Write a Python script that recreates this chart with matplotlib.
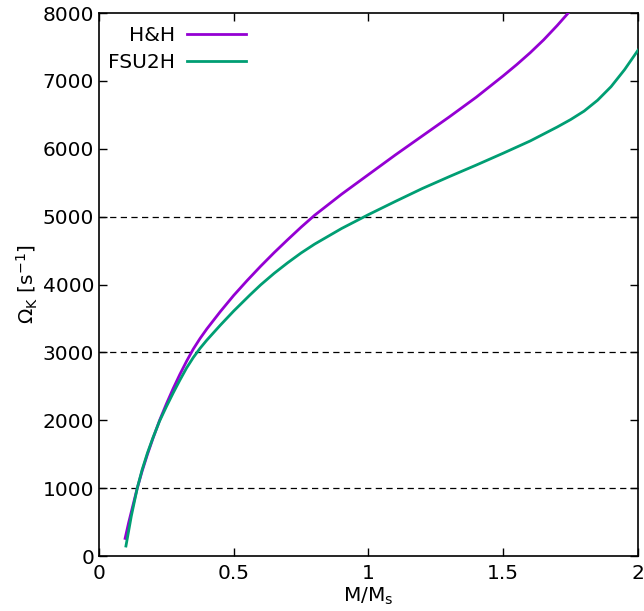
import matplotlib
matplotlib.use('Agg')
import matplotlib.pyplot as plt

# mass in units of M_s, Kepler frequency in s^-1
hh_m = [0.097, 0.11, 0.125, 0.142, 0.16, 0.18, 0.2, 0.225, 0.25, 0.275, 0.3,
        0.325, 0.35, 0.375, 0.4, 0.45, 0.5, 0.55, 0.6, 0.65, 0.7, 0.75, 0.8,
        0.9, 1.0, 1.1, 1.2, 1.3, 1.4, 1.5, 1.55, 1.6, 1.65, 1.7, 1.75]
hh_om = [260, 490, 730, 1000, 1250, 1500, 1730, 2000, 2240, 2465, 2675,
         2870, 3050, 3205, 3345, 3600, 3840, 4060, 4270, 4470, 4660, 4845,
         5020, 5330, 5620, 5910, 6190, 6470, 6760, 7075, 7240, 7415, 7605,
         7815, 8040]

fsu_m = [0.1, 0.12, 0.142, 0.16, 0.18, 0.2, 0.225, 0.25, 0.275, 0.3, 0.325,
         0.35, 0.375, 0.4, 0.45, 0.5, 0.56, 0.6, 0.65, 0.7, 0.75, 0.8, 0.9,
         1.0, 1.1, 1.2, 1.3, 1.4, 1.5, 1.6, 1.7, 1.75, 1.8, 1.85, 1.9, 1.95,
         2.0]
fsu_om = [147, 590, 1000, 1270, 1520, 1740, 1990, 2200, 2400, 2590, 2770,
          2925, 3060, 3180, 3400, 3610, 3845, 3995, 4165, 4320, 4465, 4595,
          4825, 5030, 5225, 5415, 5590, 5760, 5935, 6115, 6320, 6430, 6555,
          6715, 6915, 7165, 7452]

hlines = [1000, 3000, 5000]
xticks = [0, 0.5, 1, 1.5, 2]
xticklabels = ['0', '0.5', '1', '1.5', '2']
yticks = [0, 1000, 2000, 3000, 4000, 5000, 6000, 7000, 8000]

plt.rcParams['font.size'] = 14.5
plt.rcParams['mathtext.default'] = 'regular'

fig = plt.figure(figsize=(6.44, 6.11), dpi=100)
ax = fig.add_axes([0.1537, 0.09, 0.837, 0.8887])

for h in hlines:
    ax.axhline(h, color='black', lw=0.9, ls=(0, (5, 3.5)), zorder=1)

ax.plot(hh_m, hh_om, color='#9400d3', lw=2, label='H&H', zorder=3)
ax.plot(fsu_m, fsu_om, color='#009e73', lw=2, label='FSU2H', zorder=3)

ax.set_xlim(0, 2)
ax.set_ylim(0, 8000)
ax.set_xticks(xticks)
ax.set_xticklabels(xticklabels)
ax.set_yticks(yticks)
ax.tick_params(direction='in', top=True, right=True, length=6, width=1)
ax.tick_params(axis='x', pad=6)
for s in ax.spines.values():
    s.set_linewidth(1.2)

ax.set_xlabel('M/M$_s$', labelpad=2)
ax.set_ylabel(r'$\Omega_K$ [s$^{-1}$]', labelpad=2)

ax.legend(loc='upper left', bbox_to_anchor=(-0.007, 1.0), frameon=False,
          markerfirst=False, handlelength=2.9, handletextpad=0.6,
          labelspacing=0.4, borderaxespad=0.25)

fig.savefig('out.png', dpi=100)
